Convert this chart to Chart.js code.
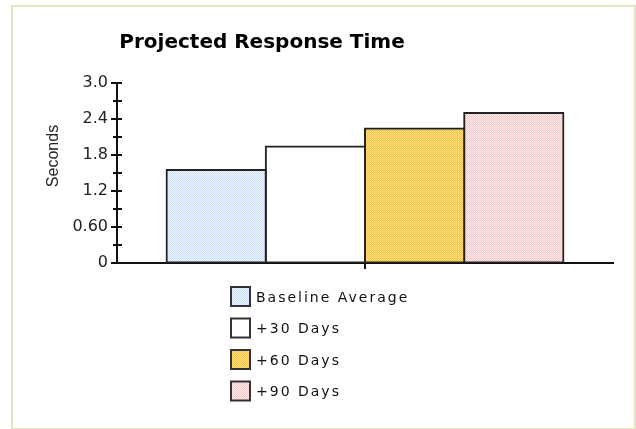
<!DOCTYPE html>
<html lang="en">
<head>
  <meta charset="UTF-8">
  <title>Projected Response Time</title>
  <script src="https://cdn.jsdelivr.net/npm/chart.js"></script>
  <style>
    body { margin: 0; background: #fff; }
    #frame {
      position: absolute; left: 11px; top: 5px; width: 621px; height: 421px;
      border: 2px solid #e4e4c0; border-bottom-width: 1px;
    }
    #wrap { position: absolute; left: 0; top: 0; width: 636px; height: 429px; }
  </style>
</head>
<body>
  <div id="frame"></div>
  <div id="wrap"><canvas id="rtChart" width="636" height="429"></canvas></div>
  <script>
    // data
    const categories = [''];
    const seriesNames = ['Baseline Average', '+30 Days', '+60 Days', '+90 Days'];
    const seriesValues = [[1.55], [1.94], [2.24], [2.5]];
    const yTickLabels = ['0', '0.60', '1.2', '1.8', '2.4', '3.0'];

    // dotted fills like the old gif chart
    function dots(a, b) {
      const c = document.createElement('canvas');
      c.width = 2; c.height = 2;
      const g = c.getContext('2d');
      g.fillStyle = b; g.fillRect(0, 0, 2, 2);
      g.fillStyle = a; g.fillRect(0, 0, 1, 1); g.fillRect(1, 1, 1, 1);
      return g.createPattern(c, 'repeat');
    }
    const fills = [
      dots('#c9defa', '#eef5ff'),
      '#ffffff',
      dots('#f7be2a', '#ffe49c'),
      dots('#f8c3c3', '#fff0f0')
    ];

    const extras = {
      id: 'extras',
      afterDraw(chart) {
        const ctx = chart.ctx;
        const y = chart.scales.y;
        const ax = y.right;
        ctx.save();
        // y ticks crossing the axis
        ctx.strokeStyle = '#111';
        ctx.lineWidth = 2;
        y.ticks.forEach((t, i) => {
          const py = Math.round(y.getPixelForValue(t.value));
          ctx.beginPath();
          ctx.moveTo(ax - (i % 2 === 0 ? 6 : 4), py);
          ctx.lineTo(ax + 5, py);
          ctx.stroke();
        });
        // title
        ctx.fillStyle = '#000';
        ctx.font = 'bold 20px "DejaVu Sans"';
        ctx.textAlign = 'center';
        ctx.textBaseline = 'alphabetic';
        ctx.fillText('Projected Response Time', 262, 48);
        // axis title
        ctx.save();
        ctx.translate(54, 156);
        ctx.rotate(-Math.PI / 2);
        ctx.font = '16px "Liberation Sans"';
        ctx.fillStyle = '#222';
        ctx.textBaseline = 'middle';
        ctx.fillText('Seconds', 0, 0);
        ctx.restore();
        // legend
        ctx.font = '14px "DejaVu Sans"';
        ctx.letterSpacing = '2px';
        ctx.textAlign = 'left';
        ctx.textBaseline = 'middle';
        chart.data.datasets.forEach((ds, i) => {
          const top = 287 + i * 31.5;
          ctx.fillStyle = ds.backgroundColor;
          ctx.fillRect(231, top, 19, 19);
          ctx.strokeStyle = '#333';
          ctx.lineWidth = 2;
          ctx.strokeRect(231, top, 19, 19);
          ctx.fillStyle = '#111';
          ctx.fillText(ds.label, 256, top + 11);
        });
        ctx.restore();
      }
    };

    new Chart(document.getElementById('rtChart'), {
      type: 'bar',
      data: {
        labels: categories,
        datasets: seriesNames.map((name, i) => ({
          label: name,
          data: seriesValues[i],
          backgroundColor: fills[i],
          borderColor: '#222',
          borderWidth: 2,
          borderSkipped: false,
          inflateAmount: 1,
          categoryPercentage: 0.8,
          barPercentage: 1.0
        }))
      },
      options: {
        responsive: false,
        animation: false,
        layout: { padding: { top: 83, right: 23, bottom: 156, left: 0 } },
        plugins: { legend: { display: false }, title: { display: false }, tooltip: { enabled: false } },
        scales: {
          x: {
            grid: { offset: false, drawOnChartArea: false, tickLength: 6, color: '#111', lineWidth: 2 },
            border: { color: '#111', width: 2 },
            ticks: { display: false },
            afterFit: s => { s.height = 10; }
          },
          y: {
            min: 0, max: 3.0,
            grid: { drawOnChartArea: false, tickLength: 6, color: 'transparent' },
            border: { color: '#111', width: 2 },
            ticks: {
              stepSize: 0.3,
              autoSkip: false,
              padding: 3,
              color: '#222',
              font: { family: 'DejaVu Sans', size: 16 },
              callback: (v, i) => (i % 2 === 0 ? yTickLabels[i / 2] : '')
            },
            afterFit: s => { s.width = 117; }
          }
        }
      },
      plugins: [extras]
    });
  </script>
</body>
</html>
